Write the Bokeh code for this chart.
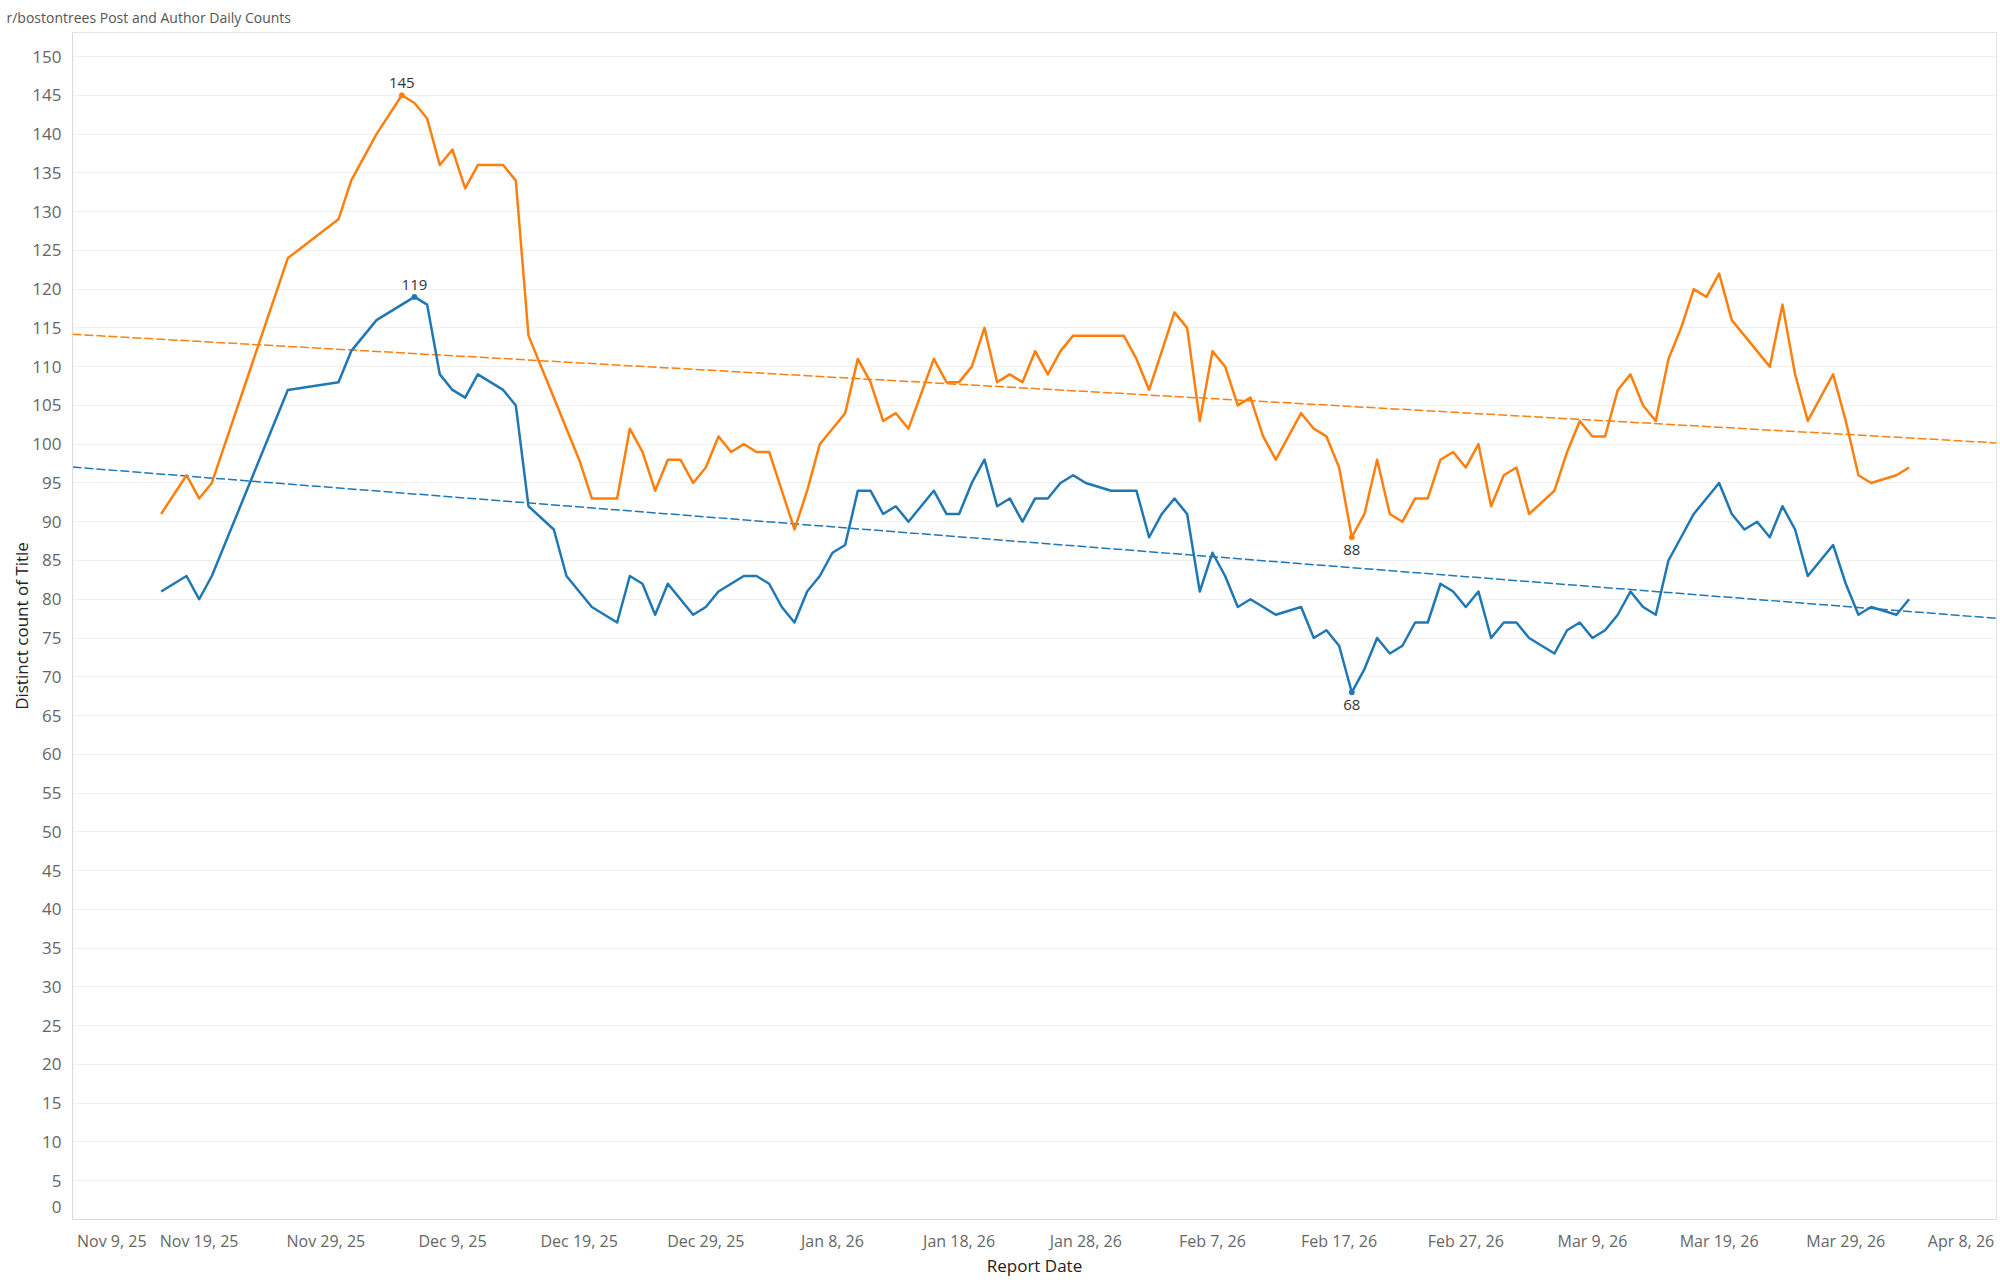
import numpy as np
import pandas as pd
from bokeh.plotting import figure
from bokeh.models import FixedTicker, Label, Range1d
from bokeh.embed import file_html
from bokeh.resources import INLINE

report_dates = [
    "2025-11-16", "2025-11-18", "2025-11-19", "2025-11-20", "2025-11-26", "2025-11-30",
    "2025-12-01", "2025-12-03", "2025-12-05", "2025-12-06", "2025-12-07", "2025-12-08",
    "2025-12-09", "2025-12-10", "2025-12-11", "2025-12-13", "2025-12-14", "2025-12-15",
    "2025-12-17", "2025-12-18", "2025-12-19", "2025-12-20", "2025-12-21", "2025-12-22",
    "2025-12-23", "2025-12-24", "2025-12-25", "2025-12-26", "2025-12-27", "2025-12-28",
    "2025-12-29", "2025-12-30", "2025-12-31", "2026-01-01", "2026-01-02", "2026-01-03",
    "2026-01-04", "2026-01-05", "2026-01-06", "2026-01-07", "2026-01-08", "2026-01-09",
    "2026-01-10", "2026-01-11", "2026-01-12", "2026-01-13", "2026-01-14", "2026-01-16",
    "2026-01-17", "2026-01-18", "2026-01-19", "2026-01-20", "2026-01-21", "2026-01-22",
    "2026-01-23", "2026-01-24", "2026-01-25", "2026-01-26", "2026-01-27", "2026-01-28",
    "2026-01-30", "2026-01-31", "2026-02-01", "2026-02-02", "2026-02-03", "2026-02-04",
    "2026-02-05", "2026-02-06", "2026-02-07", "2026-02-08", "2026-02-09", "2026-02-10",
    "2026-02-11", "2026-02-12", "2026-02-14", "2026-02-15", "2026-02-16", "2026-02-17",
    "2026-02-18", "2026-02-19", "2026-02-20", "2026-02-21", "2026-02-22", "2026-02-23",
    "2026-02-24", "2026-02-25", "2026-02-26", "2026-02-27", "2026-02-28", "2026-03-01",
    "2026-03-02", "2026-03-03", "2026-03-04", "2026-03-06", "2026-03-07", "2026-03-08",
    "2026-03-09", "2026-03-10", "2026-03-11", "2026-03-12", "2026-03-13", "2026-03-14",
    "2026-03-15", "2026-03-16", "2026-03-17", "2026-03-18", "2026-03-19", "2026-03-20",
    "2026-03-21", "2026-03-22", "2026-03-23", "2026-03-24", "2026-03-25", "2026-03-26",
    "2026-03-27", "2026-03-28", "2026-03-29", "2026-03-30", "2026-03-31", "2026-04-02",
    "2026-04-03",
]

post_counts = [
    91, 96, 93, 95, 124, 129,
    134, 140, 145, 144, 142, 136,
    138, 133, 136, 136, 134, 114,
    106, 102, 98, 93, 93, 93,
    102, 99, 94, 98, 98, 95,
    97, 101, 99, 100, 99, 99,
    94, 89, 94, 100, 102, 104,
    111, 108, 103, 104, 102, 111,
    108, 108, 110, 115, 108, 109,
    108, 112, 109, 112, 114, 114,
    114, 114, 111, 107, 112, 117,
    115, 103, 112, 110, 105, 106,
    101, 98, 104, 102, 101, 97,
    88, 91, 98, 91, 90, 93,
    93, 98, 99, 97, 100, 92,
    96, 97, 91, 94, 99, 103,
    101, 101, 107, 109, 105, 103,
    111, 115, 120, 119, 122, 116,
    114, 112, 110, 118, 109, 103,
    106, 109, 103, 96, 95, 96,
    97,
]

author_counts = [
    81, 83, 80, 83, 107, 108,
    112, 116, 118, 119, 118, 109,
    107, 106, 109, 107, 105, 92,
    89, 83, 81, 79, 78, 77,
    83, 82, 78, 82, 80, 78,
    79, 81, 82, 83, 83, 82,
    79, 77, 81, 83, 86, 87,
    94, 94, 91, 92, 90, 94,
    91, 91, 95, 98, 92, 93,
    90, 93, 93, 95, 96, 95,
    94, 94, 94, 88, 91, 93,
    91, 81, 86, 83, 79, 80,
    79, 78, 79, 75, 76, 74,
    68, 71, 75, 73, 74, 77,
    77, 82, 81, 79, 81, 75,
    77, 77, 75, 73, 76, 77,
    75, 76, 78, 81, 79, 78,
    85, 88, 91, 93, 95, 91,
    89, 90, 88, 92, 89, 83,
    85, 87, 82, 78, 79, 78,
    80,
]

axis_start_date = "2025-11-09"
tick_dates = ["2025-11-09", "2025-11-19", "2025-11-29", "2025-12-09", "2025-12-19",
              "2025-12-29", "2026-01-08", "2026-01-18", "2026-01-28", "2026-02-07",
              "2026-02-17", "2026-02-27", "2026-03-09", "2026-03-19", "2026-03-29",
              "2026-04-08"]
tick_labels = ["Nov 9, 25", "Nov 19, 25", "Nov 29, 25", "Dec 9, 25", "Dec 19, 25",
               "Dec 29, 25", "Jan 8, 26", "Jan 18, 26", "Jan 28, 26", "Feb 7, 26",
               "Feb 17, 26", "Feb 27, 26", "Mar 9, 26", "Mar 19, 26", "Mar 29, 26",
               "Apr 8, 26"]
y_ticks = list(range(0, 151, 5))

chart_title = "r/bostontrees Post and Author Daily Counts"
x_title = "Report Date"
y_title = "Distinct count of Title"

ORANGE = "#ff7f0e"
BLUE = "#1f77b4"
FONT = "Open Sans"

base = pd.Timestamp(axis_start_date)
days = np.array((pd.to_datetime(report_dates) - base).days, dtype=float)
tick_days = [int(d) for d in (pd.to_datetime(tick_dates) - base).days]
posts = np.array(post_counts, dtype=float)
authors = np.array(author_counts, dtype=float)

W, H = 1998, 1282
ML, MR, MT, MB = 72, 2, 31, 63
x_end = 151.9
y_end = 153.1

p = figure(width=W, height=H, x_range=Range1d(0, x_end), y_range=Range1d(0, y_end),
           output_backend="svg", toolbar_location=None,
           min_border_left=ML, min_border_right=MR, min_border_top=MT, min_border_bottom=MB)
p.background_fill_color = "white"
p.border_fill_color = "white"
p.outline_line_color = "#e3e3e3"
p.outline_line_width = 1

# title
p.title.text = chart_title
p.title.align = "left"
p.title.offset = -66
p.title.standoff = 11
p.title.text_font = FONT
p.title.text_font_size = "14px"
p.title.text_font_style = "normal"
p.title.text_color = "#555555"

# y axis: the "0" label sits just above the baseline, as in the original
y_label_pos = list(y_ticks)
y_label_pos[0] = 1.6
p.yaxis.ticker = FixedTicker(ticks=y_label_pos)
p.yaxis.major_label_overrides = {pos: str(t) for pos, t in zip(y_label_pos, y_ticks)}
p.ygrid.ticker = FixedTicker(ticks=y_ticks)
p.ygrid.grid_line_color = "#f0f0f0"
p.ygrid.grid_line_width = 1
p.yaxis.axis_line_color = "#d9d9d9"
p.yaxis.major_tick_line_color = None
p.yaxis.minor_tick_line_color = None
p.yaxis.major_label_text_font = FONT
p.yaxis.major_label_text_font_size = "17px"
p.yaxis.major_label_text_color = "#666666"
p.yaxis.major_label_standoff = 5
p.yaxis.axis_label = y_title
p.yaxis.axis_label_text_font = FONT
p.yaxis.axis_label_text_font_size = "17px"
p.yaxis.axis_label_text_font_style = "normal"
p.yaxis.axis_label_text_color = "#222222"
p.yaxis.axis_label_standoff = -4

# x axis: labels at the tick dates; the two end labels are pulled inside the pane
label_pos = list(tick_days)
label_pos[0] = tick_days[0] + 3.1
label_pos[-1] = tick_days[-1] - 0.9
p.xgrid.visible = False
p.xaxis.ticker = FixedTicker(ticks=label_pos)
p.xaxis.major_label_overrides = {pos: lab for pos, lab in zip(label_pos, tick_labels)}
p.xaxis.axis_line_color = "#d9d9d9"
p.xaxis.major_tick_line_color = None
p.xaxis.minor_tick_line_color = None
p.xaxis.major_label_text_font = FONT
p.xaxis.major_label_text_font_size = "16px"
p.xaxis.major_label_text_color = "#666666"
p.xaxis.major_label_standoff = 4
p.xaxis.axis_label = x_title
p.xaxis.axis_label_text_font = FONT
p.xaxis.axis_label_text_font_size = "17px"
p.xaxis.axis_label_text_font_style = "normal"
p.xaxis.axis_label_text_color = "#222222"
p.xaxis.axis_label_standoff = -1

# trend lines (least squares over the daily values)
for vals, col in ((posts, ORANGE), (authors, BLUE)):
    slope, icpt = np.polyfit(days, vals, 1)
    xs = np.array([0.0, x_end])
    p.line(xs, icpt + slope * xs, line_color=col, line_width=1.5, line_dash="9 3")

p.line(days, posts, line_color=ORANGE, line_width=2.5, line_join="round")
p.line(days, authors, line_color=BLUE, line_width=2.5, line_join="round")

# max/min annotations
for vals, col in ((posts, ORANGE), (authors, BLUE)):
    for idx, is_max in ((int(np.argmax(vals)), True), (int(np.argmin(vals)), False)):
        p.scatter([days[idx]], [vals[idx]], size=5, color=col)
        p.add_layout(Label(x=days[idx], y=vals[idx], text=f"{int(vals[idx])}",
                           text_font=FONT, text_font_size="15px", text_color="#333333",
                           text_align="center",
                           text_baseline="bottom" if is_max else "top",
                           y_offset=7 if is_max else -8))

open("out.html", "w").write(file_html(p, INLINE))
